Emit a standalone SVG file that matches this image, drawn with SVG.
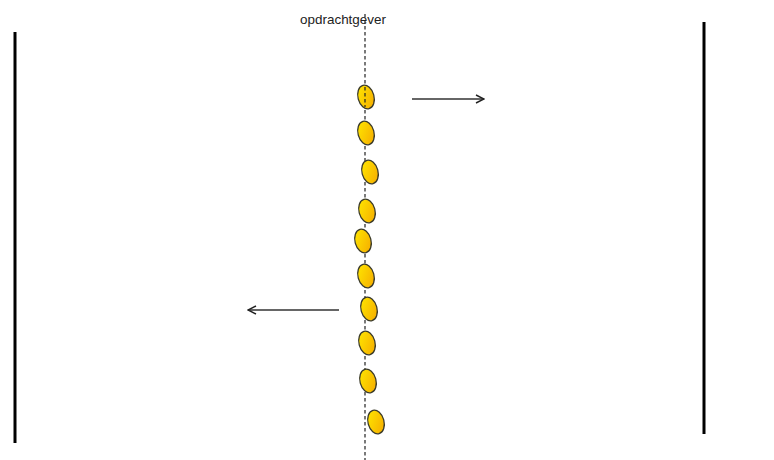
<svg xmlns="http://www.w3.org/2000/svg" width="774" height="460" viewBox="0 0 774 460">
<style>
.wall{stroke:#000;stroke-width:3;fill:none}
.dash{stroke:#222;stroke-width:1.2;stroke-dasharray:3.5,2.5;fill:none}
.seed{fill:url(#g);stroke:#3a3a2a;stroke-width:1.3}
.arr{stroke:#333;stroke-width:1.3;fill:none;marker-end:url(#m)}
text{font-family:"Liberation Sans",Arial,sans-serif;font-size:13.5px;fill:#222}
</style>
<defs>
<linearGradient id="g" x1="0" y1="0" x2="1" y2="1">
<stop offset="0" stop-color="#ffea00"/>
<stop offset="1" stop-color="#f5a800"/>
</linearGradient>
<marker id="m" viewBox="0 0 10 10" refX="9" refY="5" markerWidth="10" markerHeight="10" markerUnits="userSpaceOnUse" orient="auto">
<path d="M1,1 L9,5 L1,9" fill="none" stroke="#222" stroke-width="1.4"/>
</marker>
</defs>
<rect width="774" height="460" fill="#fff"/>
<line class="wall" x1="15" y1="32" x2="15" y2="443"/>
<line class="wall" x1="704" y1="22" x2="704" y2="434"/>
<g id="axis">
<line class="dash" x1="365" y1="14" x2="365" y2="460"/>
<text x="343" y="24" text-anchor="middle" textLength="86" lengthAdjust="spacingAndGlyphs">opdrachtgever</text>
</g>
<g id="seeds">
<ellipse class="seed" cx="366" cy="97" rx="8" ry="12" transform="rotate(-15 366 97)"/>
<ellipse class="seed" cx="366" cy="133" rx="8" ry="12" transform="rotate(-15 366 133)"/>
<ellipse class="seed" cx="370" cy="172" rx="8" ry="12" transform="rotate(-15 370 172)"/>
<ellipse class="seed" cx="367" cy="211" rx="8" ry="12" transform="rotate(-15 367 211)"/>
<ellipse class="seed" cx="363" cy="241" rx="8" ry="12" transform="rotate(-15 363 241)"/>
<ellipse class="seed" cx="366" cy="276" rx="8" ry="12" transform="rotate(-15 366 276)"/>
<ellipse class="seed" cx="369" cy="309" rx="8" ry="12" transform="rotate(-15 369 309)"/>
<ellipse class="seed" cx="367" cy="343" rx="8" ry="12" transform="rotate(-15 367 343)"/>
<ellipse class="seed" cx="368" cy="381" rx="8" ry="12" transform="rotate(-15 368 381)"/>
<ellipse class="seed" cx="376" cy="422" rx="8" ry="12" transform="rotate(-15 376 422)"/>
</g>
<line class="dash" x1="365" y1="87" x2="365" y2="107"/>
<g id="connectors">
<line class="arr" x1="412" y1="99" x2="484" y2="99"/>
<line class="arr" x1="339" y1="310" x2="248" y2="310"/>
</g>
</svg>
